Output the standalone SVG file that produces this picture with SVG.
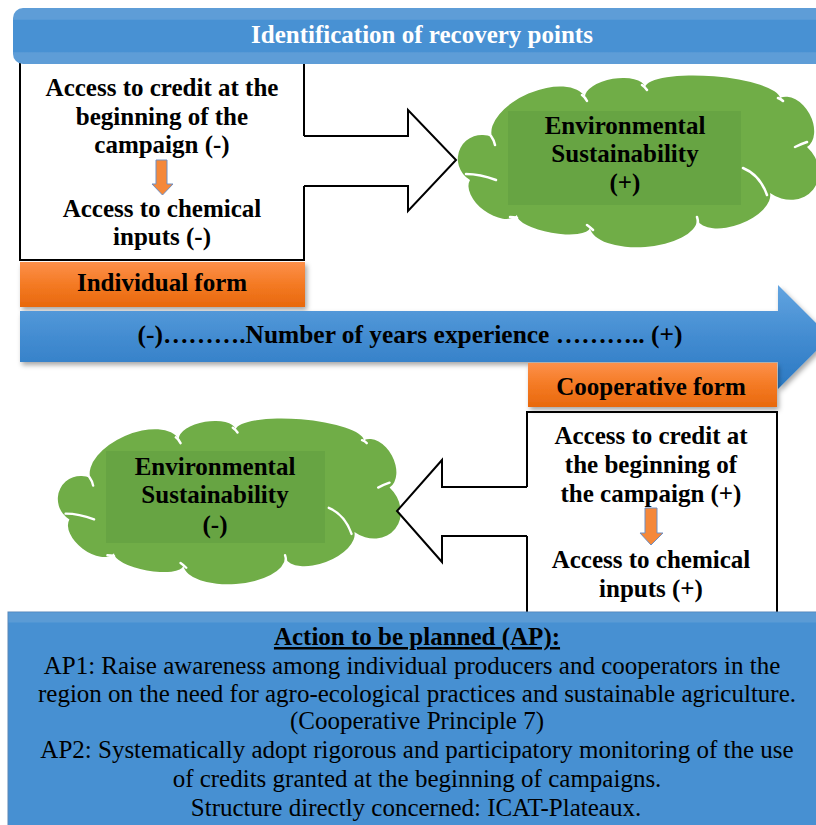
<svg xmlns="http://www.w3.org/2000/svg" width="816" height="825" viewBox="0 0 816 825">
<defs>
<style>
.b{font-family:"Liberation Serif","Times New Roman",serif;font-weight:bold;font-size:25px;fill:#000;text-anchor:middle}
.r{font-family:"Liberation Serif","Times New Roman",serif;font-size:25px;fill:#000;text-anchor:middle}
.ol{fill:#fff;stroke:#000;stroke-width:2;stroke-linejoin:miter}
.ln{fill:none;stroke:#000;stroke-width:2}
.cl{fill:#70ad47}
.cw{fill:none;stroke:#fff;stroke-width:2.5;stroke-linecap:round}
.inner{fill:#67a443}
.mini{fill:#f5883a;stroke:#6d8fc4;stroke-width:1}
</style>
<linearGradient id="gBlue" x1="0" y1="0" x2="0" y2="1">
<stop offset="0" stop-color="#5e9dd7"/><stop offset="0.2" stop-color="#5e9dd7"/>
<stop offset="0.22" stop-color="#4891d3"/><stop offset="0.78" stop-color="#4891d3"/>
<stop offset="0.8" stop-color="#5e9dd7"/><stop offset="1" stop-color="#5e9dd7"/>
</linearGradient>
<linearGradient id="gArrow" x1="0" y1="0" x2="0" y2="1">
<stop offset="0" stop-color="#62a4e0"/><stop offset="0.5" stop-color="#438cd1"/><stop offset="1" stop-color="#2a78c2"/>
</linearGradient>
<linearGradient id="gOrange" x1="0" y1="0" x2="0" y2="1">
<stop offset="0" stop-color="#fd904a"/><stop offset="0.5" stop-color="#f47a24"/><stop offset="1" stop-color="#e8680c"/>
</linearGradient>
<filter id="sh" x="-5%" y="-20%" width="115%" height="150%">
<feDropShadow dx="2" dy="3" stdDeviation="2.5" flood-color="#000" flood-opacity="0.35"/>
</filter>
<g id="cloud">
<path class="cl" d="M12,105 A24.2,24.7 -62.9 0 1 34,62 A50.7,27 -23.27 0 1 127,22 A30.45,14 -9.46 0 1 187,12 A67.8,17 4.66 0 1 322,23 A28,19 61.14 0 1 349,72 A29.6,34 128.81 0 1 312,118 A39,20 159.71 0 1 239,145 A53.7,24 175.72 0 1 132,153 A37.1,12 -169.9 0 1 59,140 A29.35,17 -143.33 0 1 12,105 Z"/>
<path class="cw" d="M8,99 Q22,99 38,105 M33,61 Q36,65 37,70 M124,20 Q127,22 129,26 M184,10 Q187,12 189,15 M320,23 Q323,24 325,26 M337,72 Q343,69 349,67 M285,93 Q302,100 309,120 M239,142 Q240,145 240,148 M129,150 Q132,152 135,155 M52,142 Q56,142 59,143"/>
</g>
</defs>
<rect width="816" height="825" fill="#fff"/>

<g id="individual-box">
<rect class="ol" x="20" y="55" width="284" height="205"/>
<text class="b" x="162" y="96">Access to credit at the</text>
<text class="b" x="162" y="125">beginning of the</text>
<text class="b" x="162" y="153">campaign (-)</text>
<text class="b" x="162" y="217">Access to chemical</text>
<text class="b" x="162" y="245">inputs (-)</text>
</g>

<g id="cooperative-box">
<rect class="ol" x="527" y="412" width="250" height="215"/>
<text class="b" x="651" y="444">Access to credit at</text>
<text class="b" x="651" y="473">the beginning of</text>
<text class="b" x="651" y="502">the campaign (+)</text>
<text class="b" x="651" y="568">Access to chemical</text>
<text class="b" x="651" y="597">inputs (+)</text>
</g>

<g id="cloud-positive">
<use href="#cloud" transform="translate(458,75)"/>
<rect class="inner" x="508" y="111" width="233" height="94"/>
<text class="b" x="625" y="134">Environmental</text>
<text class="b" x="625" y="162">Sustainability</text>
<text class="b" x="625" y="191">(+)</text>
</g>

<g id="cloud-negative">
<use href="#cloud" transform="translate(58,418) scale(0.95,0.966)"/>
<rect class="inner" x="106" y="451" width="219" height="92"/>
<text class="b" x="215" y="475">Environmental</text>
<text class="b" x="215" y="503">Sustainability</text>
<text class="b" x="215" y="533">(-)</text>
</g>

<g id="connectors">
<polygon fill="#fff" points="301,136 408,136 408,110 456,160 408,211 408,186 301,186"/>
<polyline class="ln" points="304,136 408,136 408,110 456,160 408,211 408,186 304,186"/>
<polygon fill="#fff" points="530,487 442,487 442,460 397,511 442,562 442,536 530,536"/>
<polyline class="ln" points="527,487 442,487 442,460 397,511 442,562 442,536 527,536"/>
<polygon class="mini" points="156,160 167,160 167,184 173,184 162.5,195 152,184 156,184"/>
<polygon class="mini" points="645,508 657,508 657,533 663,533 651,545 640,533 645,533"/>
</g>

<g id="title-banner">
<rect x="13" y="8" width="830" height="56" rx="10" fill="url(#gBlue)"/>
<text class="b" x="422" y="43" style="fill:#fff">Identification of recovery points</text>
</g>

<g id="individual-form">
<rect x="20" y="262" width="285" height="45" fill="url(#gOrange)" filter="url(#sh)"/>
<text class="b" x="162" y="291">Individual form</text>
</g>

<g id="experience-axis">
<polygon points="20,311 778,311 778,285 830,337 778,389 778,362 20,362" fill="url(#gArrow)" filter="url(#sh)"/>
<text class="b" x="410" y="343" textLength="545" lengthAdjust="spacingAndGlyphs">(-)……….Number of years experience ……….. (+)</text>
</g>

<g id="cooperative-form">
<rect x="528" y="363" width="249" height="44" fill="url(#gOrange)" filter="url(#sh)"/>
<text class="b" x="651" y="395">Cooperative form</text>
</g>

<g id="action-plan">
<rect x="8" y="612" width="830" height="225" fill="#4790d2" stroke="#5a85b5" stroke-width="1"/>
<rect x="8.5" y="612.5" width="829" height="10" fill="#5b9bd5"/>
<text class="r" x="417" y="645" style="font-weight:bold;text-decoration:underline">Action to be planned (AP):</text>
<text class="r" x="412" y="674">AP1: Raise awareness among individual producers and cooperators in the</text>
<text class="r" x="417" y="702">region on the need for agro-ecological practices and sustainable agriculture.</text>
<text class="r" x="417" y="729">(Cooperative Principle 7)</text>
<text class="r" x="417" y="758">AP2: Systematically adopt rigorous and participatory monitoring of the use</text>
<text class="r" x="417" y="787">of credits granted at the beginning of campaigns.</text>
<text class="r" x="416" y="816">Structure directly concerned: ICAT-Plateaux.</text>
</g>
</svg>
